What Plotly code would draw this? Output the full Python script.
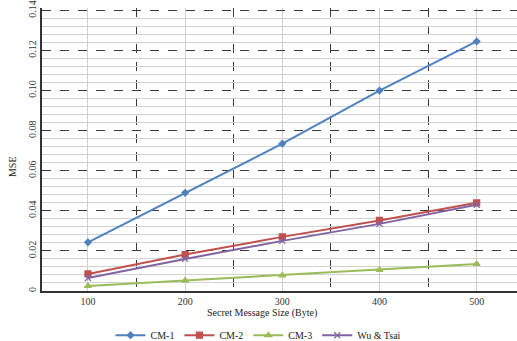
import plotly.graph_objects as go

# Secret message sizes (bytes) and MSE per method
sizes = [100, 200, 300, 400, 500]
cm1 = [0.0243, 0.0490, 0.0735, 0.1000, 0.1245]
cm2 = [0.0085, 0.0182, 0.0270, 0.0352, 0.0440]
cm3 = [0.0025, 0.0052, 0.0078, 0.0105, 0.0135]
wu_tsai = [0.0065, 0.0160, 0.0250, 0.0335, 0.0430]

y_ticks = [0, 0.02, 0.04, 0.06, 0.08, 0.10, 0.12, 0.14]
y_labels = ["0", "0.02", "0.04", "0.06", "0.08", "0.10", "0.12", "0.14"]
y_minor = [0.004, 0.008, 0.012, 0.016, 0.024, 0.028, 0.032, 0.036,
           0.044, 0.048, 0.052, 0.056, 0.064, 0.068, 0.072, 0.076,
           0.084, 0.088, 0.092, 0.096, 0.104, 0.108, 0.112, 0.116,
           0.124, 0.128, 0.132, 0.136]
boundaries = [150, 250, 350, 450]

font_family = "Liberation Serif"
x_range = [52.7, 541.5]
y_range = [0, 0.1412]

series = [
    ("CM-1", cm1, "#4F81BD", "diamond", 5),
    ("CM-2", cm2, "#C0504D", "square", 6),
    ("CM-3", cm3, "#9BBB59", "triangle-up", 6),
    ("Wu & Tsai", wu_tsai, "#8064A2", "x-thin", 6),
]

fig = go.Figure()

# Helper trace that carries the light minor grid and the dashed category boundaries
fig.add_trace(go.Scatter(x=[None], y=[None], xaxis="x2", yaxis="y2",
                         showlegend=False, hoverinfo="skip"))

for name, vals, color, symbol, size in series:
    fig.add_trace(go.Scatter(
        x=sizes, y=vals, name=name, mode="lines+markers",
        line=dict(color=color, width=2),
        marker=dict(symbol=symbol, size=size, color=color,
                    line=dict(color=color, width=1.2)),
    ))

fig.update_layout(
    width=517, height=341,
    margin=dict(l=42, r=0, t=8, b=50, autoexpand=False),
    paper_bgcolor="white", plot_bgcolor="white",
    font=dict(family=font_family, size=10, color="#333333"),
    showlegend=True,
    legend=dict(orientation="h", xref="container", x=0.5, xanchor="center",
                yref="paper", y=-0.105, yanchor="top",
                font=dict(family=font_family, size=10, color="#222222"),
                itemwidth=30, tracegroupgap=0),
    xaxis=dict(
        range=x_range, tickvals=sizes, ticks="",
        showgrid=True, gridcolor="#d0d0d0", gridwidth=1.2,
        showline=True, linecolor="#333333", linewidth=1.5,
        zeroline=False,
        tickfont=dict(family=font_family, size=10, color="#333333"),
    ),
    xaxis2=dict(
        overlaying="x", range=x_range, tickvals=boundaries,
        showticklabels=False, ticks="", showgrid=True,
        gridcolor="#3a3a3a", gridwidth=1, griddash="dash", showline=False,
        zeroline=False,
    ),
    yaxis=dict(
        range=y_range, tickvals=y_ticks, ticktext=y_labels, tickangle=-90,
        ticklabeloverflow="allow",
        showgrid=True, gridcolor="#3a3a3a", gridwidth=1, griddash="dash",
        showline=True, linecolor="#333333", linewidth=1.5,
        zeroline=False, ticks="",
        tickfont=dict(family=font_family, size=10, color="#333333"),
    ),
    yaxis2=dict(
        overlaying="y", range=y_range, tickvals=y_minor,
        showticklabels=False, ticks="", showgrid=True,
        gridcolor="#d2d2d2", gridwidth=1, showline=False, zeroline=False,
    ),
    annotations=[
        dict(text="Secret Message Size (Byte)", xref="paper", yref="paper",
             x=0.5 - 18 / 475, y=-0.078, xanchor="center", yanchor="middle",
             showarrow=False,
             font=dict(family=font_family, size=10, color="#222222")),
        dict(text="MSE", xref="paper", yref="paper", x=-0.062, y=0.44,
             xanchor="center", yanchor="middle", textangle=-90, showarrow=False,
             font=dict(family=font_family, size=10, color="#222222")),
    ],
)

fig.write_html("out.html")
